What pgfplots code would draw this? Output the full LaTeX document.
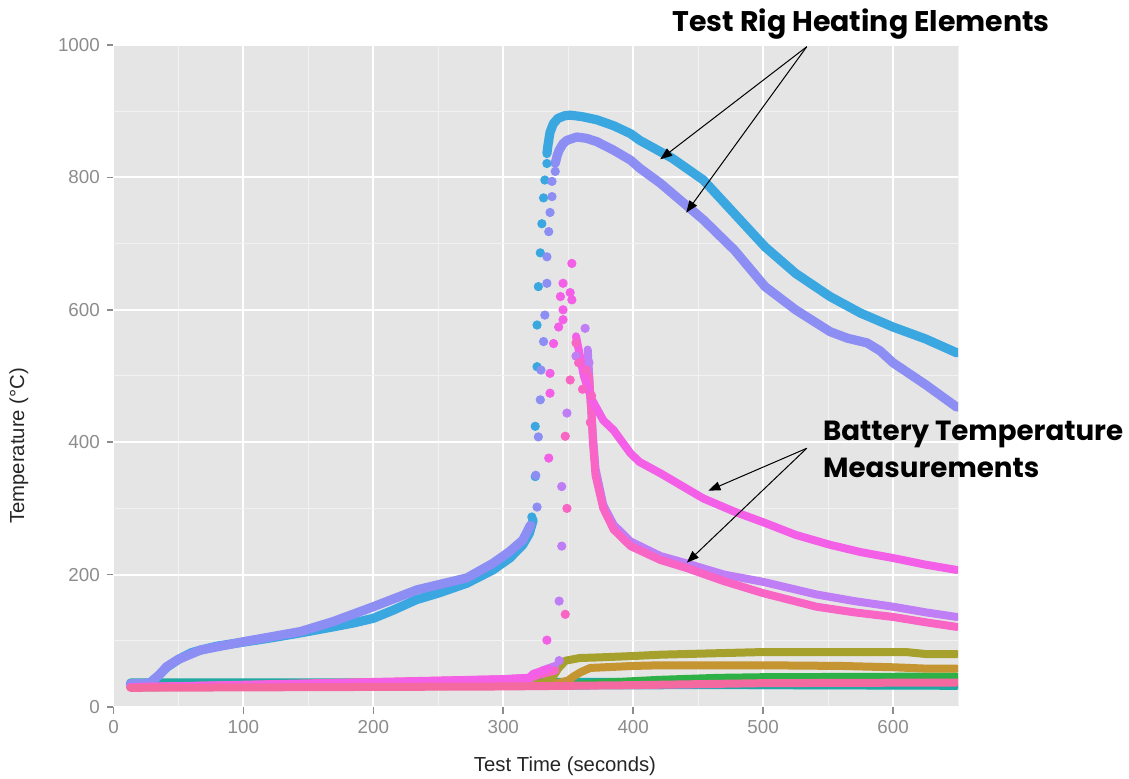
\documentclass[border=0pt]{standalone}
\usepackage{fontspec}
\setmainfont{Liberation Sans}
\newfontfamily\annfont{Poppins}
\usepackage{pgfplots}
\pgfplotsset{compat=1.18}
\usetikzlibrary{arrows.meta}
\definecolor{bgc}{HTML}{E5E5E5}
\definecolor{minorc}{HTML}{F2F2F2}
\definecolor{tickc}{HTML}{8C8C8C}
\definecolor{hblue}{HTML}{3AA7E0}
\definecolor{hpurple}{HTML}{8C8EF4}
\definecolor{bmag}{HTML}{F35FE6}
\definecolor{blav}{HTML}{C07EF6}
\definecolor{bpink}{HTML}{F965C4}
\definecolor{olive}{HTML}{A6A02C}
\definecolor{gold}{HTML}{C49530}
\definecolor{bgreen}{HTML}{2DB045}
\definecolor{teal}{HTML}{1FA9A2}
\definecolor{pinkbot}{HTML}{F4699F}
\definecolor{bluethin}{HTML}{4A9FD4}
\begin{document}
\begin{tikzpicture}
\useasboundingbox (-56.75pt,-36pt) rectangle (507.75pt,353.5pt);
\begin{axis}[
  at={(0,0)}, anchor=south west,
  scale only axis, width=422.25pt, height=331pt,
  xmin=0, xmax=650, ymin=0, ymax=1000,
  axis background/.style={fill=bgc},
  axis line style={draw=none},
  xtick={0,100,...,600}, ytick={0,200,...,1000},
  minor xtick={50,150,...,650}, minor ytick={100,300,...,900},
  grid=both,
  major grid style={white, line width=1pt},
  minor grid style={minorc, line width=0.5pt},
  tick align=outside, tick pos=left,
  major tick length=3.3pt, minor tick length=0pt,
  tick style={tickc, line width=0.8pt},
  /pgf/number format/assume math mode=true,
  /pgf/number format/1000 sep={},
  ticklabel style={font=\fontsize{9.4}{11}\selectfont, text=tickc},
  xlabel={Test Time (seconds)},
  ylabel={Temperature (°C)},
  label style={font=\fontsize{10.15}{12}\selectfont, text=black!85},
  xlabel style={at={(axis description cs:0.5346,0)}, anchor=center, yshift=-29.5pt},
  ylabel style={at={(axis description cs:0,0.3943)}, anchor=center, yshift=47.25pt},
  clip=true,
  every axis plot/.append style={line cap=round, line join=round},
  dots/.style={only marks, mark=*, mark size=2.1pt, mark options={draw=none}},
]
% low battery series
\addplot[bluethin, line width=2pt] coordinates {(13,28)(300,29)(450,30)(649,30)};
\addplot[teal, line width=4pt] coordinates {(13,37)(100,37)(200,37)(300,37)(328,38)(380,38)(420,37)(450,34)(500,33)(649,32)};
\addplot[bgreen, line width=4pt] coordinates {(13,30)(350,33)(380,37)(420,41)(465,44)(500,45)(649,46)};
\addplot[gold, line width=4pt] coordinates {(13,30)(300,32)(340,35)(350,40)(354,46)(360,53)(367,59)(400,62)(421,63)(500,63)(560,62)(600,60)(625,58)(649,58)};
\addplot[olive, line width=4pt] coordinates {(13,30)(300,33)(330,36)(338,45)(343,60)(348,70)(359,74)(375,75)(400,77)(421,79)(460,81)(500,83)(550,83)(610,83)(625,80)(649,80)};
% heater blue
\addplot[hblue, line width=4.6pt] coordinates {(13,35)(22,35)(28,36)(35,48)(41,60)(50,72)(60,82)(67,86)(80,92)(100,98)(120,104)(144,112)(169,121)(185,127)(200,134)(215,146)(233,162)(250,172)(272,187)(292,207)(305,225)(315,245)(320,262)(323,282)};
\addplot[hblue, dots] coordinates {(322,287)(324.6,348)(324.6,424)(326,514)(326,577)(327,635)(328.5,686)(329.7,730)(331,769)(332,796)(333.6,821)};
\addplot[hblue, line width=4.6pt] coordinates {(333.6,836)(334.5,850)(336,868)(338.5,881)(342,889)(347,893)(351.5,894)(360,892)(372,887)(385,878)(398,866)(405,856)(430,829)(454,796)(478,745)(501.5,695)(525,655)(551.5,620)(575,595)(600,574)(625,556)(649,535)};
% heater purple
\addplot[hpurple, line width=4.6pt] coordinates {(13,35)(28,36)(35,48)(41,61)(50,72)(67,86)(100,98.6)(144,114)(169,129)(200,151.5)(233.6,177)(272,195)(292,217)(305,235)(315,252)(321,275)};
\addplot[hpurple, dots] coordinates {(326,302)(325,350)(327,408)(328.5,464)(329,509)(331,552)(332,592)(333.6,640)(333.6,680)(335,718)(336,747)(337.5,771)(337.5,794)(340,809)};
\addplot[hpurple, line width=4.6pt] coordinates {(340,821)(341.5,833)(343,841)(346,851)(349,856)(356.7,861)(364,859)(372,854)(385,841)(398,826)(405,814)(421,791)(454,736)(478,690)(501.5,635)(525,600)(551.5,567)(565,557)(580,550)(590,538)(600,520)(625,487)(649,453)};
% battery lavender
\addplot[blav, line width=4pt] coordinates {(13,30)(200,36)(300,40)(320,42)(330,55)(340,62)};
\addplot[blav, dots] coordinates {(343,70)(343,160)(345,243)(345,333)(349,444)(356,530)(363,572)(366,520)};
\addplot[blav, line width=4pt] coordinates {(365,540)(367,470)(369,410)(371,360)(377,305)(385,275)(398,250)(421,228)(441,217)(470,200)(500,189)(541,170)(570,160)(600,151.5)(625,143)(649,136)};
% battery pink
\addplot[bpink, line width=4pt] coordinates {(13,30)(300,42)(320,44)(330,50)(340,55)};
\addplot[bpink, dots] coordinates {(347.7,140)(349,300)(347.7,409)(351.5,494)(361,480)(364,509)(356,550)(358,520)(368,470)(367,430)};
\addplot[bpink, line width=4pt] coordinates {(366,500)(368,440)(369,400)(371,350)(377,300)(385,268)(398,243)(421,222)(441,210)(470,190)(500,172)(541,151.5)(570,143)(600,136)(625,128)(649,121)};
% battery magenta
\addplot[bmag, line width=4pt] coordinates {(13,30)(100,33)(200,37)(300,42)(320,44)(323,50)(335,58)};
\addplot[bmag, dots] coordinates {(333.6,101)(335,376)(336,474)(336,504)(338.7,549)(342.6,574)(344,620)(346,640)(346,600)(346,585)(351.5,626)(352.8,670)(352.8,615)};
\addplot[bmag, line width=4pt] coordinates {(356,560)(362,500)(368,465)(377,433)(385,418)(398,383)(405,370)(421,353)(454,315)(478,295)(501.5,278)(525,260)(551.5,245)(575,234)(600,225)(625,215)(649,207)};
% bottom pink
\addplot[pinkbot, line width=4pt] coordinates {(13,29)(300,31)(400,33)(500,36)(649,37)};
\coordinate (t1) at (axis cs:430,1020);
\coordinate (a1) at (axis cs:533.6,997.4);
\coordinate (a1t) at (axis cs:420.8,827.3);
\coordinate (a2t) at (axis cs:440.8,746.7);
\coordinate (t2) at (axis cs:545.9,403.3);
\coordinate (t3) at (axis cs:545.9,347.4);
\coordinate (b1) at (axis cs:533.6,390.8);
\coordinate (b1t) at (axis cs:457.9,326.7);
\coordinate (b2t) at (axis cs:441.3,218);
\end{axis}
\node[anchor=base west, inner sep=0pt, font=\annfont\bfseries\fontsize{14.2}{16}\selectfont] at (t1) {Test Rig Heating Elements};
\node[anchor=base west, inner sep=0pt, font=\annfont\bfseries\fontsize{13.85}{16}\selectfont] at (t2) {Battery Temperature};
\node[anchor=base west, inner sep=0pt, font=\annfont\bfseries\fontsize{13.85}{16}\selectfont] at (t3) {Measurements};
\draw[line width=0.5pt, -{Triangle[length=6pt,width=4.5pt]}] (a1) -- (a1t);
\draw[line width=0.5pt, -{Triangle[length=6pt,width=4.5pt]}] (a1) -- (a2t);
\draw[line width=0.5pt, -{Triangle[length=6pt,width=4.5pt]}] (b1) -- (b1t);
\draw[line width=0.5pt, -{Triangle[length=6pt,width=4.5pt]}] (b1) -- (b2t);
\end{tikzpicture}
\end{document}
